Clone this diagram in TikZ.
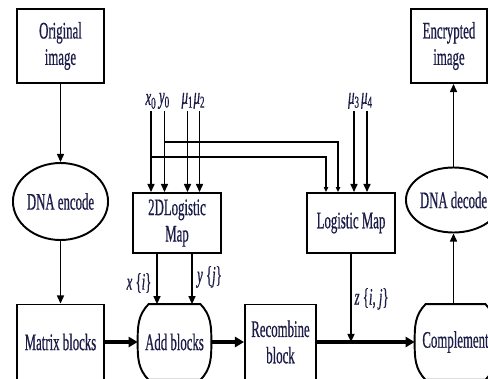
\documentclass[tikz,border=0pt]{standalone}
\usepackage{fontspec}
\setmainfont{Liberation Serif}[FakeStretch=0.54, FakeBold=0.6]
\usetikzlibrary{shapes.geometric, arrows.meta, positioning, calc}
\definecolor{inknavy}{RGB}{28,28,72}
% outline of a block with bowed ends
\newcommand{\pillrim}[1]{\draw[line width=1.1pt] ([xshift=0.22cm]#1.north west) -- ([xshift=-0.22cm]#1.north east) to[out=-45,in=90] (#1.east) to[out=-90,in=45] ([xshift=-0.22cm]#1.south east) -- ([xshift=0.22cm]#1.south west) to[out=135,in=-90] (#1.west) to[out=90,in=-135] cycle;}

\begin{document}
\begin{tikzpicture}[every node/.style={text=inknavy, font=\fontsize{13.5}{15}\selectfont, align=center},
                blk/.style={draw, rectangle, line width=1.1pt, inner sep=0pt},
                oval/.style={draw, ellipse, line width=1.1pt, inner sep=0pt},
                pill/.style={rectangle, inner sep=0pt, minimum height=1.5cm},
                feed/.style={line width=0.85pt, -{Triangle[length=4.6pt,width=4pt]}},
                tap/.style={line width=0.85pt, -{Triangle[length=2.8pt,width=2.4pt]}},
                flow/.style={line width=2pt, -{Triangle[length=5.2pt,width=5.8pt]}},
                parm/.style={anchor=south, inner sep=1pt}]
                \useasboundingbox (0,0) rectangle (9.76,-7.56);
                
                % left column
                \node[blk, minimum width=1.74cm, minimum height=1.48cm] (orig) at (1.21,-0.92) {Original\\image};
                \node[oval, minimum width=1.74cm, minimum height=1.54cm] (enc) at (1.21,-4.03) {DNA encode};
                \node[blk, minimum width=1.74cm, minimum height=1.5cm] (mat) at (1.21,-6.84) {Matrix blocks};
                
                % chaotic maps
                \node[blk, minimum width=1.76cm, minimum height=1.2cm] (logi2) at (3.54,-4.46) {2DLogistic\\Map};
                \node[blk, minimum width=1.76cm, minimum height=1.2cm] (logi) at (7.02,-4.46) {Logistic Map};
                
                % bottom row
                \node[pill, minimum width=1.46cm] (add) at (3.49,-6.84) {Add blocks};
                \node[blk, minimum width=1.42cm, minimum height=1.5cm] (recomb) at (5.61,-6.84) {Recombine\\block};
                \node[pill, minimum width=1.62cm] (comp) at (9.11,-6.84) {Complement};
                \pillrim{add}
                \pillrim{comp}
                
                % right column
                \node[oval, minimum width=1.7cm, minimum height=1.3cm] (dec) at (9.07,-4.0) {DNA decode};
                \node[blk, minimum width=1.52cm, minimum height=1.48cm] (encr) at (8.98,-0.92) {Encrypted\\image};
                
                % keys
                \node[parm] (x0) at (3.02,-2.22) {\textit{x}\textsubscript{0}};
                \node[parm] (y0) at (3.29,-2.22) {\textit{y}\textsubscript{0}};
                \node[parm] (mu1) at (3.75,-2.22) {\textit{μ}\textsubscript{1}};
                \node[parm] (mu2) at (3.99,-2.22) {\textit{μ}\textsubscript{2}};
                \node[parm] (mu3) at (7.08,-2.22) {\textit{μ}\textsubscript{3}};
                \node[parm] (mu4) at (7.34,-2.22) {\textit{μ}\textsubscript{4}};
                
                \draw[feed] (orig) -- (enc);
                \draw[feed] (enc) -- (mat);
                \draw[flow] (mat) -- (add);
                \draw[flow] (add) -- (recomb);
                \draw[flow] (recomb) -- (comp);
                \draw[feed] (dec.south |- comp.north) -- (dec.south);
                \draw[feed] (dec.north) -- (dec.north |- encr.south);
                
                \draw[feed] (x0.south) -- (x0.south |- logi2.north);
                \draw[feed] (y0.south) -- (y0.south |- logi2.north);
                \draw[feed] (mu1.south) -- (mu1.south |- logi2.north);
                \draw[feed] (mu2.south) -- (mu2.south |- logi2.north);
                \draw[feed] (mu3.south) -- (mu3.south |- logi.north);
                \draw[feed] (mu4.south) -- (mu4.south |- logi.north);
                
                \coordinate (ytap) at (3.29,-2.84);
                \coordinate (xtap) at (3.02,-3.14);
                \draw[tap] (ytap) -| ([xshift=-0.26cm]logi.north);
                \draw[tap] (xtap) -| ([xshift=-0.5cm]logi.north);
                
                \draw[feed] ([xshift=-0.4cm]logi2.south) -- ([xshift=-0.4cm]logi2.south |- add.north);
                \draw[feed] ([xshift=0.3cm]logi2.south) -- ([xshift=0.3cm]logi2.south |- add.north);
                \coordinate (zjoin) at (logi.south |- recomb.east);
                \draw[feed] (logi.south) -- (zjoin);
                
                \node[anchor=east, inner sep=1pt] (xi) at (3.07,-5.66) {\textit{x} \{\textit{i}\}};
                \node[anchor=west, inner sep=1pt] (yj) at (3.9,-5.54) {\textit{y} \{\textit{j}\}};
                \node[anchor=west, inner sep=1pt] (zij) at (7.05,-5.98) {\textit{z} \{\textit{i}, \textit{j}\}};
            \end{tikzpicture}
\end{document}
